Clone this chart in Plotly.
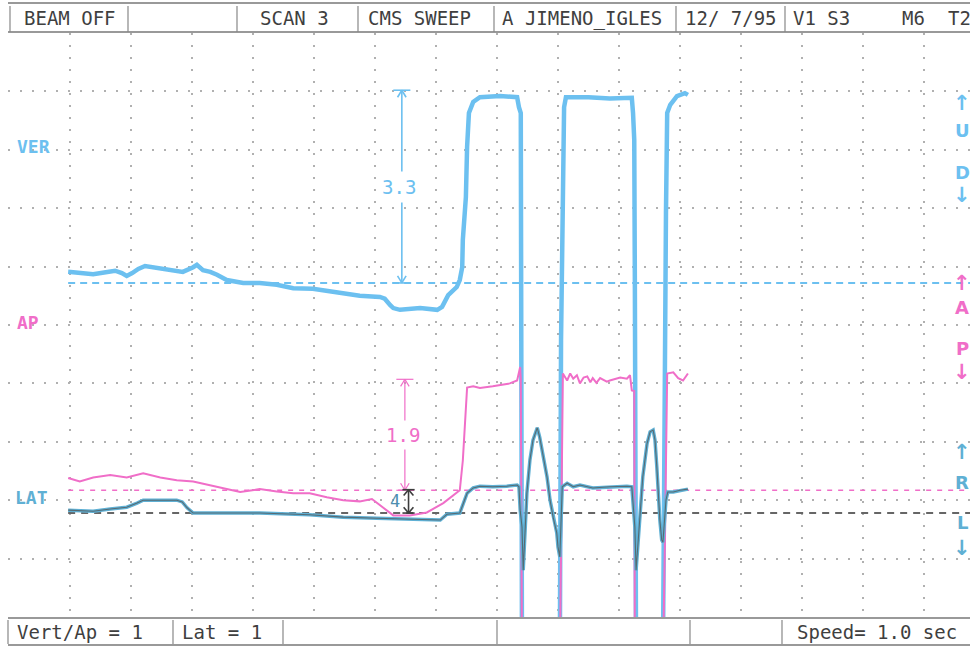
import plotly.graph_objects as go

# ---------------- data (time in divisions, values in volts relative to each channel baseline)
VER_T = [0.97, 1.15, 1.38, 1.56, 1.66, 1.74, 1.85, 1.93, 2.02, 2.12, 2.23, 2.36, 2.59, 2.85, 3.02, 3.08,
         3.18, 3.30, 3.41, 3.57, 3.84, 4.11, 4.39, 4.66, 4.98, 5.21, 5.48, 5.75, 6.08, 6.16, 6.25, 6.30,
         6.41, 6.74, 7.02, 7.10, 7.20, 7.34, 7.39, 7.43, 7.44, 7.49, 7.51, 7.54, 7.61, 7.72, 8.05, 8.33,
         8.36, 8.39, 8.41, 9.03, 9.05, 9.07, 9.08, 9.10, 9.13, 9.50, 9.85, 10.21, 10.23, 10.25, 10.26,
         10.28, 10.72, 10.75, 10.77, 10.79, 10.84, 10.95, 11.08, 11.13]
VER_V = [0.19, 0.17, 0.15, 0.18, 0.19, 0.21, 0.17, 0.12, 0.17, 0.24, 0.29, 0.27, 0.24, 0.19, 0.27, 0.31,
         0.22, 0.19, 0.14, 0.05, 0.00, 0.00, -0.03, -0.09, -0.10, -0.14, -0.17, -0.22, -0.24, -0.27, -0.38, -0.43,
         -0.46, -0.43, -0.46, -0.41, -0.21, -0.07, 0.05, 0.27, 0.74, 1.47, 2.33, 2.91, 3.10, 3.18, 3.20, 3.18,
         3.01, 2.91, -6.5, -6.5, -0.98, 0.91, 2.33, 3.01, 3.18, 3.18, 3.16, 3.17, 2.91, 2.45, 0.00,
         -6.5, -6.5, 0.05, 1.20, 2.91, 3.05, 3.20, 3.25, 3.22]

AP_T = [0.97, 1.16, 1.38, 1.66, 1.93, 2.20, 2.48, 2.75, 3.02, 3.30, 3.57, 3.79, 4.11, 4.39, 4.66, 4.93,
        5.21, 5.48, 5.75, 5.95, 6.08, 6.30, 6.57, 6.85, 7.12, 7.34, 7.39, 7.44, 7.49, 7.51, 7.61, 7.72,
        7.93, 8.21, 8.33, 8.36, 8.38, 8.39, 8.41, 9.03, 9.05, 9.07, 9.08, 9.15, 9.20, 9.25, 9.31, 9.36,
        9.42, 9.48, 9.53, 9.57, 9.63, 9.69, 9.80, 9.85, 10.02, 10.13, 10.18, 10.21, 10.25, 10.26,
        10.72, 10.75, 10.79, 10.89, 10.97, 11.05, 11.13]
AP_V = [0.21, 0.15, 0.22, 0.26, 0.22, 0.29, 0.22, 0.17, 0.15, 0.09, 0.02, -0.03, 0.02, -0.02, -0.05, -0.05,
        -0.12, -0.17, -0.19, -0.15, -0.26, -0.43, -0.43, -0.38, -0.22, -0.05, 0.00, 0.51, 1.37, 1.76, 1.78, 1.75,
        1.78, 1.83, 1.88, 2.05, 2.11, 1.90, -3.0, -3.0, -0.98, 1.66, 2.00, 1.88, 2.00, 1.91, 1.97, 1.83,
        1.93, 1.95, 1.85, 1.92, 1.84, 1.92, 1.86, 1.88, 1.93, 1.91, 1.97, 1.71, 1.70, -3.0,
        -3.0, -1.08, 2.00, 2.02, 1.92, 1.88, 2.00]

LAT_T = [0.97, 1.38, 1.66, 1.93, 2.10, 2.20, 2.75, 2.84, 2.92, 3.02, 3.30, 4.11, 4.93, 5.48, 6.03, 6.30,
         7.07, 7.18, 7.39, 7.51, 7.61, 7.72, 7.93, 8.16, 8.33, 8.36, 8.38, 8.41, 8.43, 8.49, 8.54, 8.59,
         8.66, 8.70, 8.75, 8.82, 8.87, 8.92, 8.98, 9.00, 9.03, 9.07, 9.15, 9.25, 9.36, 9.57, 9.85, 10.13,
         10.21, 10.23, 10.26, 10.28, 10.34, 10.39, 10.46, 10.51, 10.56, 10.59, 10.62, 10.64, 10.67, 10.70,
         10.72, 10.77, 10.80, 10.89, 11.00, 11.13]
LAT_V = [0.05, 0.03, 0.07, 0.10, 0.17, 0.22, 0.22, 0.19, 0.09, 0.00, 0.00, 0.00, -0.03, -0.07, -0.09, -0.10,
         -0.12, -0.02, 0.00, 0.34, 0.43, 0.46, 0.45, 0.46, 0.48, 0.45, 0.05, -0.24, -0.98, 0.34, 0.91, 1.25,
         1.46, 1.30, 1.03, 0.62, 0.22, -0.07, -0.34, -0.58, -0.75, 0.45, 0.51, 0.45, 0.48, 0.43, 0.45, 0.46,
         0.45, 0.22, -0.24, -0.98, -0.12, 0.62, 1.19, 1.39, 1.42, 1.25, 0.79, 0.36, -0.12, -0.46,
         -0.50, 0.22, 0.36, 0.36, 0.39, 0.41]

# channel baselines on the screen (divisions)
VER_BASE = 5.72
AP_BASE = 2.17
LAT_BASE = 1.78

# measured amplitudes
VER_AMP = 3.3
AP_AMP = 1.9
LAT_AMP = 0.4
MEAS_T = [6.44, 6.49, 6.55]

HEADER = ["BEAM OFF", "SCAN 3", "CMS SWEEP", "A JIMENO_IGLES", "12/ 7/95", "V1 S3", "M6", "T2"]
FOOTER = ["Vert/Ap = 1", "Lat = 1", "Speed= 1.0 sec"]

# ---------------- style
BLUE = "#6cc0f0"
PINK = "#f06ec8"
GREY = "#555a5c"
LATC = "#5fb0d4"
TXT = "#3f3f3f"
MONO = "DejaVu Sans Mono"
X_MIN, X_MAX = -0.016, 15.754
Y_MIN, Y_MAX = 0, 10

fig = go.Figure()
fig.add_trace(go.Scatter(x=VER_T, y=[v + VER_BASE for v in VER_V], mode="lines",
                         line=dict(color=BLUE, width=4.5), hoverinfo="skip"))
fig.add_trace(go.Scatter(x=AP_T, y=[v + AP_BASE for v in AP_V], mode="lines",
                         line=dict(color=PINK, width=2), hoverinfo="skip"))
fig.add_trace(go.Scatter(x=LAT_T, y=[v + LAT_BASE for v in LAT_V], mode="lines",
                         line=dict(color=LATC, width=3.5), hoverinfo="skip"))
fig.add_trace(go.Scatter(x=LAT_T, y=[v + LAT_BASE for v in LAT_V], mode="lines",
                         line=dict(color=GREY, width=1.1), opacity=0.8, hoverinfo="skip"))

shapes = []
# baselines
for base, col, w, dash in [(VER_BASE, BLUE, 2, "7px,5px"), (AP_BASE, PINK, 1.3, "5px,6px"),
                           (LAT_BASE, "#666", 2, "7px,6px")]:
    shapes.append(dict(type="line", xref="x", yref="y", x0=VER_T[0], x1=X_MAX, y0=base, y1=base,
                       line=dict(color=col, width=w, dash=dash), layer="between"))


def measure(t, y0, y1, col, w, cap=0.14, ah=0.07, av=0.12):
    out = [dict(type="line", xref="x", yref="y", x0=t, x1=t, y0=y0, y1=y1, line=dict(color=col, width=w))]
    for y, s in [(y1, -1), (y0, 1)]:
        out.append(dict(type="line", xref="x", yref="y", x0=t - cap, x1=t + cap, y0=y, y1=y,
                        line=dict(color=col, width=w)))
        for d in (-1, 1):
            out.append(dict(type="line", xref="x", yref="y", x0=t, x1=t + d * ah, y0=y, y1=y + s * av,
                            line=dict(color=col, width=w)))
    return out


shapes += measure(MEAS_T[0], VER_BASE, VER_BASE + VER_AMP, BLUE, 1.6)
shapes += measure(MEAS_T[1], AP_BASE, AP_BASE + AP_AMP, PINK, 1.2)
shapes += measure(MEAS_T[2], LAT_BASE, LAT_BASE + LAT_AMP, "#3d3d3d", 1.6, cap=0.1, ah=0.08, av=0.1)


# header / footer frames
def px2py(py):
    return (617 - py) / 584


for py in (3, 32, 618, 645):
    shapes.append(dict(type="line", xref="paper", yref="paper", x0=0, x1=1, y0=px2py(py), y1=px2py(py),
                       line=dict(color="#777", width=1.5)))
for px in (10, 128, 237, 358, 494, 676, 785):
    xp = (px - 8) / 962
    shapes.append(dict(type="line", xref="paper", yref="paper", x0=xp, x1=xp, y0=px2py(6), y1=px2py(32),
                       line=dict(color="#888", width=1.2)))
for px in (8, 173, 283, 497, 690, 782):
    xp = (px - 8) / 962
    shapes.append(dict(type="line", xref="paper", yref="paper", x0=xp, x1=xp, y0=px2py(620), y1=px2py(644),
                       line=dict(color="#888", width=1.2)))

ann = []
for txt, px in zip(HEADER, (22, 258, 366, 500, 683, 791, 900, 946)):
    ann.append(dict(text=txt, x=(px - 8) / 962, y=px2py(18), xref="paper", yref="paper",
                    xanchor="left", yanchor="middle", showarrow=False,
                    font=dict(family=MONO, size=19, color=TXT)))
for txt, px in zip(FOOTER, (15, 180, 795)):
    ann.append(dict(text=txt, x=(px - 8) / 962, y=px2py(632), xref="paper", yref="paper",
                    xanchor="left", yanchor="middle", showarrow=False,
                    font=dict(family=MONO, size=19, color=TXT)))

# channel names
for txt, px, py, col in [("VER", 15, 146, BLUE), ("AP", 15, 322, PINK), ("LAT", 13, 497, LATC)]:
    ann.append(dict(text="<b>%s</b>" % txt, x=(px - 8) / 962, y=px2py(py), xref="paper", yref="paper",
                    xanchor="left", yanchor="middle", showarrow=False,
                    font=dict(family=MONO, size=18, color=col)))

# right-side direction labels
for chars, pys, col in [(["↑", "U", "D", "↓"], (103, 130, 172, 195), BLUE),
                        (["↑", "A", "P", "↓"], (283, 307, 348, 372), PINK),
                        (["↑", "R", "L", "↓"], (452, 482, 522, 548), LATC)]:
    for c, py in zip(chars, pys):
        size = 21 if c in "↑↓" else 18
        ann.append(dict(text="<b>%s</b>" % c, x=(962 - 8) / 962, y=px2py(py), xref="paper", yref="paper",
                        xanchor="center", yanchor="middle", showarrow=False, borderpad=0,
                        font=dict(family="DejaVu Sans", size=size, color=col)))

# amplitude labels
ann.append(dict(text="%.1f" % VER_AMP, x=MEAS_T[0] - 0.05, y=VER_BASE + VER_AMP / 2, xref="x", yref="y",
                showarrow=False, bgcolor="white", borderpad=4,
                font=dict(family=MONO, size=19, color=BLUE)))
ann.append(dict(text="%.1f" % AP_AMP, x=MEAS_T[1] - 0.03, y=AP_BASE + AP_AMP / 2, xref="x", yref="y",
                showarrow=False, bgcolor="white", borderpad=3,
                font=dict(family=MONO, size=19, color=PINK)))
ann.append(dict(text="4", x=MEAS_T[2] - 0.22, y=LAT_BASE + LAT_AMP / 2, xref="x", yref="y",
                showarrow=False, font=dict(family=MONO, size=17, color="#4f8fb0")))

fig.update_layout(
    width=970, height=650, margin=dict(l=8, r=0, t=33, b=33),
    paper_bgcolor="white", plot_bgcolor="white", showlegend=False,
    shapes=shapes, annotations=ann,
    xaxis=dict(range=[X_MIN, X_MAX], tick0=0, dtick=1, showgrid=True, gridcolor="#b0b0b0",
               griddash="1.5px,10.5px", gridwidth=1.5, zeroline=False, showticklabels=False,
               ticks="", showline=False, fixedrange=True),
    yaxis=dict(range=[Y_MIN, Y_MAX], tick0=0, dtick=1, showgrid=True, gridcolor="#b0b0b0",
               griddash="1.5px,10.5px", gridwidth=1.5, zeroline=False, showticklabels=False,
               ticks="", showline=False, fixedrange=True),
)

fig.write_html("out.html", config={"displayModeBar": False},
               post_script="document.body.style.margin='0';document.body.style.overflow='hidden';")
